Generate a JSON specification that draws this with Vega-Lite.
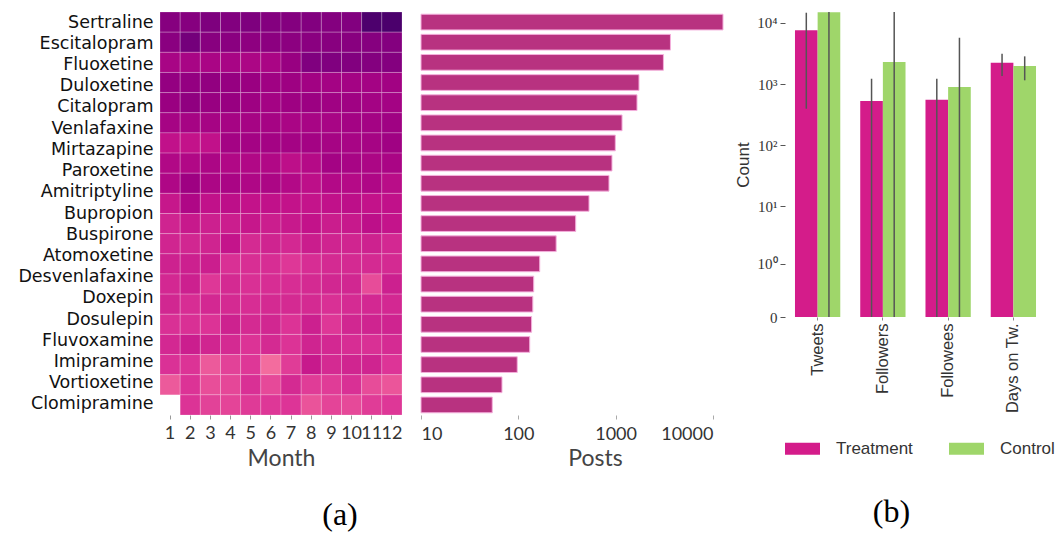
{
"$schema": "https://vega.github.io/schema/vega-lite/v6.json",
"padding": {"left": 0, "top": 11, "right": 2, "bottom": 2},
"background": "white",
"config": {"view": {"stroke": null}, "axis": {"grid": false}},
"datasets": {
"drugs": [{"drug":"Sertraline"},{"drug":"Escitalopram"},{"drug":"Fluoxetine"},{"drug":"Duloxetine"},{"drug":"Citalopram"},{"drug":"Venlafaxine"},{"drug":"Mirtazapine"},{"drug":"Paroxetine"},{"drug":"Amitriptyline"},{"drug":"Bupropion"},{"drug":"Buspirone"},{"drug":"Atomoxetine"},{"drug":"Desvenlafaxine"},{"drug":"Doxepin"},{"drug":"Dosulepin"},{"drug":"Fluvoxamine"},{"drug":"Imipramine"},{"drug":"Vortioxetine"},{"drug":"Clomipramine"}],
"posts": [{"row":1,"posts":12700},{"row":2,"posts":3660},{"row":3,"posts":3100},{"row":4,"posts":1740},{"row":5,"posts":1660},{"row":6,"posts":1165},{"row":7,"posts":993},{"row":8,"posts":918},{"row":9,"posts":855},{"row":10,"posts":533},{"row":11,"posts":389},{"row":12,"posts":245},{"row":13,"posts":166},{"row":14,"posts":144},{"row":15,"posts":141},{"row":16,"posts":137},{"row":17,"posts":131},{"row":18,"posts":97.5},{"row":19,"posts":68},{"row":20,"posts":54}],
"stats": [
{"metric":"Tweets","group":"Treatment","value":7540,"lo":395,"hi":14600},
{"metric":"Tweets","group":"Control","value":14850,"lo":0,"hi":60000},
{"metric":"Followers","group":"Treatment","value":527,"lo":0,"hi":1220},
{"metric":"Followers","group":"Control","value":2290,"lo":0,"hi":60000},
{"metric":"Followees","group":"Treatment","value":554,"lo":0,"hi":1220},
{"metric":"Followees","group":"Control","value":895,"lo":0,"hi":5700},
{"metric":"Days on Tw.","group":"Treatment","value":2230,"lo":1350,"hi":3130},
{"metric":"Days on Tw.","group":"Control","value":1970,"lo":1150,"hi":2830}],
"heat": [
{"row":1,"month":1,"v":7.5},{"row":1,"month":2,"v":7.5},{"row":1,"month":3,"v":7.9},{"row":1,"month":4,"v":7.7},{"row":1,"month":5,"v":7.9},{"row":1,"month":6,"v":7.6},{"row":1,"month":7,"v":7.6},{"row":1,"month":8,"v":7.7},{"row":1,"month":9,"v":7.6},{"row":1,"month":10,"v":7.7},{"row":1,"month":11,"v":9.8},{"row":1,"month":12,"v":9.9},
{"row":2,"month":1,"v":7.3},{"row":2,"month":2,"v":8.3},{"row":2,"month":3,"v":7.4},{"row":2,"month":4,"v":7.3},{"row":2,"month":5,"v":7.1},{"row":2,"month":6,"v":7.2},{"row":2,"month":7,"v":7.2},{"row":2,"month":8,"v":7.3},{"row":2,"month":9,"v":7.4},{"row":2,"month":10,"v":7.4},{"row":2,"month":11,"v":7.5},{"row":2,"month":12,"v":7.6},
{"row":3,"month":1,"v":5.8},{"row":3,"month":2,"v":5.8},{"row":3,"month":3,"v":5.7},{"row":3,"month":4,"v":5.8},{"row":3,"month":5,"v":5.6},{"row":3,"month":6,"v":5.7},{"row":3,"month":7,"v":6.6},{"row":3,"month":8,"v":7.8},{"row":3,"month":9,"v":7.8},{"row":3,"month":10,"v":7.7},{"row":3,"month":11,"v":7.6},{"row":3,"month":12,"v":7.6},
{"row":4,"month":1,"v":6.8},{"row":4,"month":2,"v":6.8},{"row":4,"month":3,"v":6.9},{"row":4,"month":4,"v":6.7},{"row":4,"month":5,"v":6.5},{"row":4,"month":6,"v":6.2},{"row":4,"month":7,"v":6.3},{"row":4,"month":8,"v":6.1},{"row":4,"month":9,"v":6.0},{"row":4,"month":10,"v":6.0},{"row":4,"month":11,"v":6.0},{"row":4,"month":12,"v":6.1},
{"row":5,"month":1,"v":6.5},{"row":5,"month":2,"v":7.0},{"row":5,"month":3,"v":6.6},{"row":5,"month":4,"v":6.6},{"row":5,"month":5,"v":6.3},{"row":5,"month":6,"v":6.0},{"row":5,"month":7,"v":6.3},{"row":5,"month":8,"v":6.4},{"row":5,"month":9,"v":6.2},{"row":5,"month":10,"v":6.2},{"row":5,"month":11,"v":6.0},{"row":5,"month":12,"v":6.0},
{"row":6,"month":1,"v":5.9},{"row":6,"month":2,"v":5.9},{"row":6,"month":3,"v":5.9},{"row":6,"month":4,"v":5.9},{"row":6,"month":5,"v":5.9},{"row":6,"month":6,"v":5.9},{"row":6,"month":7,"v":5.7},{"row":6,"month":8,"v":5.8},{"row":6,"month":9,"v":5.8},{"row":6,"month":10,"v":6.0},{"row":6,"month":11,"v":6.0},{"row":6,"month":12,"v":6.2},
{"row":7,"month":1,"v":4.6},{"row":7,"month":2,"v":4.5},{"row":7,"month":3,"v":4.6},{"row":7,"month":4,"v":6.0},{"row":7,"month":5,"v":6.0},{"row":7,"month":6,"v":6.0},{"row":7,"month":7,"v":6.0},{"row":7,"month":8,"v":6.0},{"row":7,"month":9,"v":5.9},{"row":7,"month":10,"v":5.8},{"row":7,"month":11,"v":5.9},{"row":7,"month":12,"v":6.2},
{"row":8,"month":1,"v":5.4},{"row":8,"month":2,"v":5.4},{"row":8,"month":3,"v":5.6},{"row":8,"month":4,"v":5.4},{"row":8,"month":5,"v":5.4},{"row":8,"month":6,"v":5.4},{"row":8,"month":7,"v":4.8},{"row":8,"month":8,"v":5.2},{"row":8,"month":9,"v":6.0},{"row":8,"month":10,"v":5.8},{"row":8,"month":11,"v":5.6},{"row":8,"month":12,"v":5.7},
{"row":9,"month":1,"v":5.5},{"row":9,"month":2,"v":6.3},{"row":9,"month":3,"v":5.6},{"row":9,"month":4,"v":5.7},{"row":9,"month":5,"v":5.5},{"row":9,"month":6,"v":5.6},{"row":9,"month":7,"v":5.3},{"row":9,"month":8,"v":4.8},{"row":9,"month":9,"v":5.3},{"row":9,"month":10,"v":5.2},{"row":9,"month":11,"v":5.5},{"row":9,"month":12,"v":5.0},
{"row":10,"month":1,"v":4.3},{"row":10,"month":2,"v":5.5},{"row":10,"month":3,"v":4.6},{"row":10,"month":4,"v":4.8},{"row":10,"month":5,"v":4.5},{"row":10,"month":6,"v":4.6},{"row":10,"month":7,"v":4.5},{"row":10,"month":8,"v":4.4},{"row":10,"month":9,"v":4.6},{"row":10,"month":10,"v":4.8},{"row":10,"month":11,"v":4.5},{"row":10,"month":12,"v":4.6},
{"row":11,"month":1,"v":3.6},{"row":11,"month":2,"v":4.2},{"row":11,"month":3,"v":3.8},{"row":11,"month":4,"v":3.9},{"row":11,"month":5,"v":4.3},{"row":11,"month":6,"v":3.9},{"row":11,"month":7,"v":4.2},{"row":11,"month":8,"v":4.5},{"row":11,"month":9,"v":4.0},{"row":11,"month":10,"v":4.2},{"row":11,"month":11,"v":4.8},{"row":11,"month":12,"v":4.4},
{"row":12,"month":1,"v":3.5},{"row":12,"month":2,"v":3.4},{"row":12,"month":3,"v":3.6},{"row":12,"month":4,"v":4.4},{"row":12,"month":5,"v":3.2},{"row":12,"month":6,"v":3.6},{"row":12,"month":7,"v":3.3},{"row":12,"month":8,"v":4.0},{"row":12,"month":9,"v":3.6},{"row":12,"month":10,"v":3.5},{"row":12,"month":11,"v":3.7},{"row":12,"month":12,"v":3.3},
{"row":13,"month":1,"v":3.7},{"row":13,"month":2,"v":3.8},{"row":13,"month":3,"v":3.9},{"row":13,"month":4,"v":2.8},{"row":13,"month":5,"v":2.9},{"row":13,"month":6,"v":3.0},{"row":13,"month":7,"v":2.4},{"row":13,"month":8,"v":3.0},{"row":13,"month":9,"v":3.2},{"row":13,"month":10,"v":3.2},{"row":13,"month":11,"v":3.2},{"row":13,"month":12,"v":3.2},
{"row":14,"month":1,"v":3.3},{"row":14,"month":2,"v":3.8},{"row":14,"month":3,"v":2.4},{"row":14,"month":4,"v":3.2},{"row":14,"month":5,"v":2.8},{"row":14,"month":6,"v":3.0},{"row":14,"month":7,"v":3.0},{"row":14,"month":8,"v":3.2},{"row":14,"month":9,"v":3.4},{"row":14,"month":10,"v":3.4},{"row":14,"month":11,"v":1.6},{"row":14,"month":12,"v":3.8},
{"row":15,"month":1,"v":3.4},{"row":15,"month":2,"v":3.0},{"row":15,"month":3,"v":3.3},{"row":15,"month":4,"v":3.2},{"row":15,"month":5,"v":3.0},{"row":15,"month":6,"v":3.2},{"row":15,"month":7,"v":3.2},{"row":15,"month":8,"v":3.2},{"row":15,"month":9,"v":2.8},{"row":15,"month":10,"v":3.1},{"row":15,"month":11,"v":3.3},{"row":15,"month":12,"v":3.3},
{"row":16,"month":1,"v":2.8},{"row":16,"month":2,"v":2.8},{"row":16,"month":3,"v":2.6},{"row":16,"month":4,"v":3.7},{"row":16,"month":5,"v":3.2},{"row":16,"month":6,"v":3.4},{"row":16,"month":7,"v":2.6},{"row":16,"month":8,"v":3.8},{"row":16,"month":9,"v":2.4},{"row":16,"month":10,"v":3.4},{"row":16,"month":11,"v":3.6},{"row":16,"month":12,"v":3.6},
{"row":17,"month":1,"v":3.3},{"row":17,"month":2,"v":3.9},{"row":17,"month":3,"v":3.5},{"row":17,"month":4,"v":3.2},{"row":17,"month":5,"v":2.6},{"row":17,"month":6,"v":3.2},{"row":17,"month":7,"v":2.6},{"row":17,"month":8,"v":3.6},{"row":17,"month":9,"v":3.3},{"row":17,"month":10,"v":3.0},{"row":17,"month":11,"v":2.8},{"row":17,"month":12,"v":3.1},
{"row":18,"month":1,"v":2.7},{"row":18,"month":2,"v":2.6},{"row":18,"month":3,"v":1.0},{"row":18,"month":4,"v":2.0},{"row":18,"month":5,"v":2.4},{"row":18,"month":6,"v":0.2},{"row":18,"month":7,"v":2.2},{"row":18,"month":8,"v":4.2},{"row":18,"month":9,"v":3.2},{"row":18,"month":10,"v":3.5},{"row":18,"month":11,"v":3.6},{"row":18,"month":12,"v":2.5},
{"row":19,"month":1,"v":1.0},{"row":19,"month":2,"v":2.6},{"row":19,"month":3,"v":1.5},{"row":19,"month":4,"v":1.8},{"row":19,"month":5,"v":2.8},{"row":19,"month":6,"v":1.7},{"row":19,"month":7,"v":3.2},{"row":19,"month":8,"v":2.2},{"row":19,"month":9,"v":2.2},{"row":19,"month":10,"v":2.8},{"row":19,"month":11,"v":1.6},{"row":19,"month":12,"v":1.2},
{"row":20,"month":2,"v":2.6},{"row":20,"month":3,"v":2.0},{"row":20,"month":4,"v":1.9},{"row":20,"month":5,"v":2.3},{"row":20,"month":6,"v":2.4},{"row":20,"month":7,"v":2.5},{"row":20,"month":8,"v":1.3},{"row":20,"month":9,"v":1.9},{"row":20,"month":10,"v":1.7},{"row":20,"month":11,"v":2.2},{"row":20,"month":12,"v":2.4}
]
},
"spacing": 10,
"hconcat": [
{
"title": {"text": "(a)", "orient": "bottom", "anchor": "middle", "font": "Liberation Serif", "fontSize": 32, "fontWeight": "normal", "color": "#000", "offset": 30, "dx": -22},
"spacing": 17,
"hconcat": [
{
"width": 242, "height": 403,
"resolve": {"scale": {"y": "independent"}, "axis": {"y": "independent"}},
"layer": [
{
"data": {"name": "heat"},
"mark": {"type": "rect", "stroke": "#ffffff", "strokeWidth": 0.7, "strokeOpacity": 0.3},
"encoding": {
"x": {"field": "month", "type": "ordinal", "scale": {"paddingInner": 0, "paddingOuter": 0},
"axis": {"title": "Month", "labelAngle": 0, "domain": false, "tickSize": 4, "tickColor": "#999", "labelFont": "Lato", "labelFontSize": 18, "labelColor": "#333", "labelPadding": 5, "labelOverlap": false, "titleFont": "Lato", "titleFontSize": 23, "titleFontWeight": "normal", "titleColor": "#444", "titlePadding": 5}},
"y": {"field": "row", "type": "ordinal", "axis": null, "scale": {"paddingInner": 0, "paddingOuter": 0}},
"color": {"field": "v", "type": "quantitative", "scale": {"domain": [0, 2.5, 4.5, 6.5, 8, 10], "range": ["#f5709f", "#dd3497", "#c3128a", "#9a0081", "#7c007e", "#48006b"]}, "legend": null}
}
},
{
"data": {"name": "drugs"},
"mark": {"type": "point", "opacity": 0},
"encoding": {
"y": {"field": "drug", "type": "nominal", "sort": null, "scale": {"type": "band", "paddingInner": 0, "paddingOuter": 0},
"axis": {"title": null, "ticks": false, "domain": false, "labelFont": "DejaVu Sans", "labelFontSize": 17.5, "labelColor": "#111", "labelPadding": 7, "minExtent": 160, "maxExtent": 160}}
}
}
]
},
{
"width": 303, "height": 403,
"data": {"name": "posts"},
"mark": {"type": "bar", "color": "#b83280", "stroke": "#f4b0dc", "strokeWidth": 1},
"encoding": {
"y": {"field": "row", "type": "ordinal", "axis": null, "scale": {"paddingInner": 0.22, "paddingOuter": 0.11}},
"x": {"field": "posts", "type": "quantitative", "scale": {"type": "log", "domain": [10, 13000], "nice": false},
"axis": {"title": "Posts", "values": [10, 100, 1000, 10000], "format": "d", "labelFlush": 14, "labelOverlap": false, "domain": false, "tickSize": 4, "tickColor": "#aaa", "labelFont": "Lato", "labelFontSize": 18, "labelColor": "#333", "labelPadding": 6, "titleFont": "Lato", "titleFontSize": 23, "titleFontWeight": "normal", "titleColor": "#444", "titlePadding": 4, "titleX": 174}},
"x2": {"datum": 10}
}
}
]
},
{
"width": 261, "height": 305,
"title": {"text": "(b)", "orient": "bottom", "anchor": "middle", "font": "Liberation Serif", "fontSize": 32, "fontWeight": "normal", "color": "#000", "offset": 40, "dx": -24},
"data": {"name": "stats"},
"encoding": {
"x": {"field": "metric", "type": "nominal", "sort": ["Tweets", "Followers", "Followees", "Days on Tw."], "scale": {"paddingInner": 0.306, "paddingOuter": 0.153},
"axis": {"title": null, "labelAngle": -90, "labelAlign": "right", "labelBaseline": "middle", "labelFont": "Liberation Sans", "labelFontSize": 16.5, "labelColor": "#333", "tickSize": 3, "tickColor": "#888", "domain": false, "labelPadding": 3}},
"xOffset": {"field": "group", "type": "nominal", "sort": ["Treatment", "Control"], "scale": {"paddingInner": 0, "paddingOuter": 0}}
},
"layer": [
{
"mark": {"type": "bar"},
"encoding": {
"y": {"field": "value", "type": "quantitative", "scale": {"type": "symlog", "constant": 0.157, "domain": [0, 15000], "nice": false},
"axis": {"title": "Count", "values": [0, 1, 10, 100, 1000, 10000], "labelExpr": "datum.value == 0 ? '0' : datum.value == 1 ? '10⁰' : datum.value == 10 ? '10¹' : datum.value == 100 ? '10²' : datum.value == 1000 ? '10³' : '10⁴'", "domain": false, "tickSize": 5, "tickColor": "#555", "labelFont": "Liberation Serif", "labelFontSize": 15, "labelColor": "#333", "labelPadding": 3, "titleFont": "Liberation Sans", "titleFontSize": 17, "titleFontWeight": "normal", "titleColor": "#333", "titlePadding": 4}},
"color": {"field": "group", "type": "nominal", "scale": {"domain": ["Treatment", "Control"], "range": ["#d41c8a", "#9fd66a"]},
"legend": {"title": null, "orient": "bottom", "direction": "horizontal", "symbolType": "M-1,-0.34H1V0.34H-1Z", "symbolSize": 1225, "symbolStrokeWidth": 0, "labelFont": "Liberation Sans", "labelFontSize": 17, "labelColor": "#333", "labelOffset": 16, "columnPadding": 36, "offset": 18}}
}
},
{
"mark": {"type": "rule", "color": "#555", "strokeWidth": 1.5, "clip": true},
"encoding": {
"y": {"field": "lo", "type": "quantitative"},
"y2": {"field": "hi"}
}
}
]
}
]
}
